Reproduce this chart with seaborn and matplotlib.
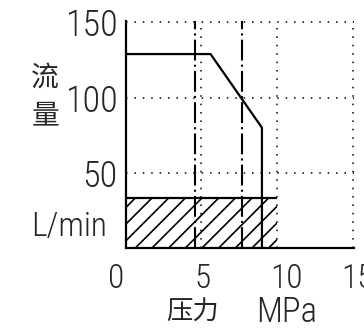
import matplotlib
matplotlib.use("Agg")
import matplotlib.pyplot as plt
import matplotlib.transforms as mtransforms
import seaborn as sns

# pressure (MPa) vs flow (L/min) characteristic
pressure = [0, 5.6, 9.0, 9.0]
flow = [129, 129, 80, 0]

# relief / set pressures (dash-dot lines)
set_pressures = [4.6, 7.7]

# hatched working area
area_pressure = 10.0
area_flow = 33

x_ticks = [0, 5, 10, 15]
y_ticks = [50, 100, 150]
x_label_shift = [-10, 1, 9, 5]  # px, labels are hand placed in the original

sns.set_style("white")
plt.rcParams["hatch.linewidth"] = 1.2
narrow = ["Roboto Condensed", "DejaVu Sans"]
num_font = dict(family=narrow, weight="light")
cjk = ["Noto Sans CJK SC", "DejaVu Sans"]

fig = plt.figure(figsize=(3.64, 3.28), dpi=100)
ax = fig.add_axes([0.346, 0.244, 0.626, 0.692])

ax.bar(0, area_flow, width=area_pressure, align="edge", facecolor="none",
       edgecolor="black", linewidth=0, hatch="//", zorder=2)
ax.hlines(area_flow, 0, area_pressure, color="black", linewidth=1.6, zorder=3)

for p in set_pressures:
    ax.axvline(p, color="black", linewidth=1.5, linestyle=(0, (10, 2, 1, 2)), zorder=3)

sns.lineplot(x=pressure, y=flow, sort=False, estimator=None, color="black",
             linewidth=1.6, ax=ax, zorder=4)

ax.set_xlim(0, 15.08)
ax.set_ylim(0, 151)
ax.set_xticks(x_ticks)
ax.set_yticks(y_ticks)
ax.set_xticklabels([str(t) for t in x_ticks], fontsize=24, **num_font)
ax.set_yticklabels([str(t) for t in y_ticks], fontsize=26, **num_font)
ax.tick_params(length=0)
ax.tick_params(axis="x", pad=11)
ax.tick_params(axis="y", pad=6)
for lab, dx in zip(ax.get_xticklabels(), x_label_shift):
    lab.set_transform(lab.get_transform() +
                      mtransforms.ScaledTranslation(dx / 100, 0, fig.dpi_scale_trans))

ax.grid(True, color="black", linewidth=1.1, linestyle=(0, (1, 4.5)))
ax.set_axisbelow(True)

for side in ["top", "right"]:
    ax.spines[side].set_visible(False)
for side in ["left", "bottom"]:
    ax.spines[side].set_color("black")
    ax.spines[side].set_linewidth(1.6)

# axis titles: 压力 / MPa, 流量 / L/min
ax.set_xlabel("压力", fontsize=19, family=cjk)
ax.xaxis.set_label_coords(0.293, -0.284)
ax.xaxis.label.set_va("center")
fig.text(0.788, 0.049, "MPa", fontsize=25, ha="center", va="center", **num_font)

fig.text(0.124, 0.706, "流\n量", fontsize=20, family=cjk, ha="center",
         va="center", linespacing=1.35)
fig.text(0.19, 0.308, "L/min", fontsize=24, ha="center", va="center", **num_font)

fig.savefig("out.png", dpi=100)
plt.close(fig)
